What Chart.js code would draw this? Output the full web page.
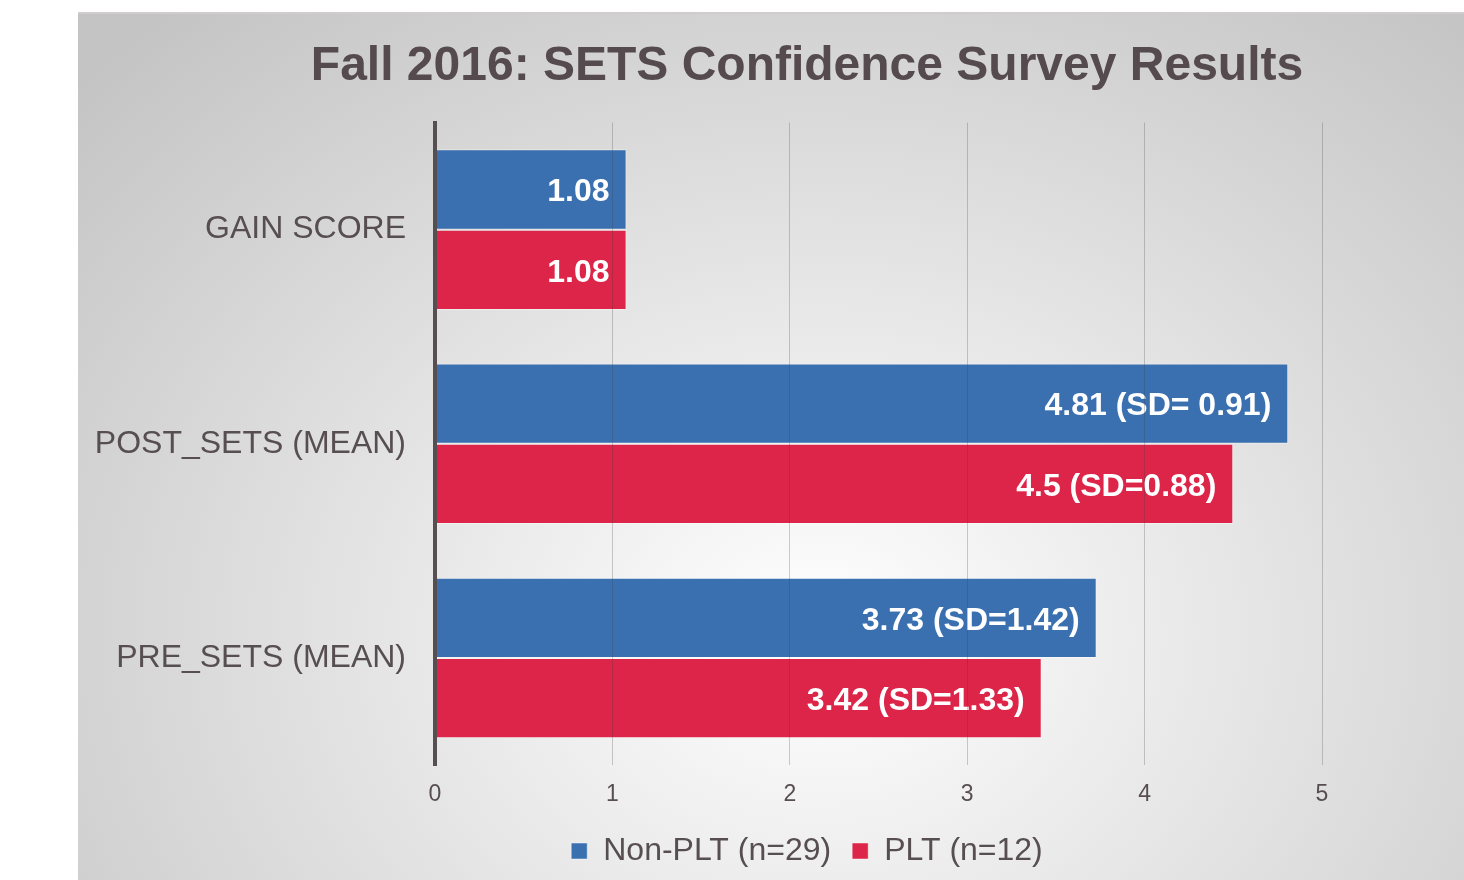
<!DOCTYPE html>
<html>
<head>
<meta charset="utf-8">
<script src="https://cdn.jsdelivr.net/npm/chart.js@4/dist/chart.umd.min.js"></script>
<style>
  body { margin: 0; background: #fff; overflow: hidden; width: 1464px; height: 880px; position: relative; }
  #bg {
    position: absolute; left: 78px; top: 12px; width: 1458px; height: 868px;
    border-top: 2px solid #d2cdcd;
    background: radial-gradient(ellipse 1000px 820px at 740px 620px, #ffffff 0%, #c4c4c4 100%);
  }
  #myChart { position: absolute; left: 78px; top: 13px; }
</style>
</head>
<body>
<div id="bg"></div>
<canvas id="myChart" width="1458" height="867"></canvas>
<script>
// chart values
var categories = ['GAIN SCORE', 'POST_SETS (MEAN)', 'PRE_SETS (MEAN)'];
var nonPltValues = [1.08, 4.81, 3.73];
var pltValues = [1.08, 4.5, 3.42];
var nonPltLabels = ['1.08', '4.81 (SD= 0.91)', '3.73 (SD=1.42)'];
var pltLabels = ['1.08', '4.5 (SD=0.88)', '3.42 (SD=1.33)'];
var xTicks = [0, 1, 2, 3, 4, 5];

var textColor = '#574e52';
var fontFamily = "'Liberation Sans', Arial, sans-serif";

// draws the value text inside the end of each bar
var barLabels = {
    id: 'barLabels',
    afterDatasetsDraw: function (chart) {
        var ctx = chart.ctx;
        var allLabels = [nonPltLabels, pltLabels];
        ctx.save();
        ctx.font = 'bold 32px ' + fontFamily;
        ctx.fillStyle = '#ffffff';
        ctx.textAlign = 'right';
        ctx.textBaseline = 'middle';
        chart.data.datasets.forEach(function (ds, i) {
            chart.getDatasetMeta(i).data.forEach(function (bar, j) {
                ctx.fillText(allLabels[i][j], bar.x - 17, bar.y + 3);
            });
        });
        ctx.restore();
    }
};

var ctx = document.getElementById('myChart').getContext('2d');
var myChart = new Chart(ctx, {
    type: 'bar',
    data: {
        labels: categories,
        datasets: [{
            label: 'Non-PLT (n=29)',
            data: nonPltValues,
            backgroundColor: '#3a70b0',
            borderColor: 'rgba(255,255,255,0.45)',
            borderWidth: 1
        }, {
            label: 'PLT (n=12)',
            data: pltValues,
            backgroundColor: '#dc2548',
            borderColor: 'rgba(255,255,255,0.45)',
            borderWidth: 1
        }]
    },
    options: {
        indexAxis: 'y',
        responsive: false,
        animation: false,
        layout: { padding: { left: 0, right: 0, top: 0, bottom: 3 } },
        datasets: { bar: { categoryPercentage: 0.75, barPercentage: 1.0 } },
        plugins: {
            title: {
                display: true,
                text: 'Fall 2016: SETS Confidence Survey Results',
                color: '#554b4f',
                font: { family: fontFamily, size: 48, weight: 'bold' },
                padding: { top: 25, bottom: 27 }
            },
            legend: {
                position: 'bottom',
                labels: {
                    color: textColor,
                    font: { family: fontFamily, size: 32 },
                    boxWidth: 16,
                    boxHeight: 16,
                    padding: 21
                }
            },
            tooltip: { enabled: false }
        },
        scales: {
            x: {
                min: 0,
                max: 5,
                afterBuildTicks: function (s) {
                    s.ticks = xTicks.map(function (v) { return { value: v }; });
                },
                afterFit: function (s) { s.height = 49; },
                grid: { color: 'rgba(60,60,60,0.25)', lineWidth: 1, drawTicks: false, z: 1 },
                border: { display: false },
                ticks: {
                    color: textColor,
                    font: { family: fontFamily, size: 23 },
                    padding: 16
                }
            },
            y: {
                afterFit: function (s) { s.width = 357; },
                grid: { display: false, drawTicks: false },
                border: { display: true, color: '#574e52', width: 4, z: 2 },
                ticks: {
                    color: textColor,
                    font: { family: fontFamily, size: 32 },
                    padding: 29
                }
            },
            // empty right-hand axis, only reserves the space right of the plot
            yRight: {
                type: 'category',
                position: 'right',
                labels: categories,
                afterFit: function (s) { s.width = 214; },
                grid: { display: false, drawTicks: false },
                border: { display: false },
                ticks: { display: false }
            }
        }
    },
    plugins: [barLabels]
});
</script>
</body>
</html>
